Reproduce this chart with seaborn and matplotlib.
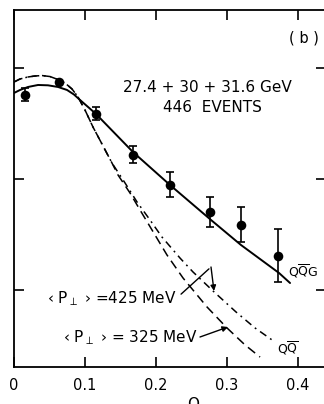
import numpy as np
import pandas as pd
import matplotlib
matplotlib.use("Agg")
import matplotlib.pyplot as plt
import seaborn as sns

# ---- data ----
obl_data = [0.015, 0.063, 0.115, 0.168, 0.220, 0.277, 0.320, 0.373]
dist_data = [2.76, 2.87, 2.59, 2.22, 1.95, 1.70, 1.59, 1.31]
dist_err = [0.06, 0.0, 0.06, 0.075, 0.11, 0.135, 0.16, 0.24]

qqg_x = [0.0, 0.0085, 0.0197, 0.0339, 0.0480, 0.0621, 0.0748, 0.0846, 0.0931,
         0.1044, 0.1156, 0.1678, 0.2200, 0.2778, 0.3202, 0.3738, 0.3893]
qqg_y = [2.775, 2.802, 2.829, 2.847, 2.844, 2.829, 2.802, 2.761, 2.712,
         2.649, 2.586, 2.243, 1.946, 1.631, 1.405, 1.153, 1.063]

shared_x = [0.0, 0.0085, 0.0197, 0.0296, 0.0395, 0.0508, 0.0621, 0.0719, 0.0818,
            0.0903, 0.1001, 0.1114, 0.1241, 0.1382]
shared_y = [2.874, 2.901, 2.919, 2.928, 2.932, 2.923, 2.896, 2.865, 2.811,
            2.739, 2.622, 2.468, 2.315, 2.144]

qq325_x = shared_x + [0.1467, 0.1636, 0.1777, 0.1946, 0.2158, 0.2384, 0.2722,
                      0.3004, 0.3258, 0.3470]
qq325_y = shared_y + [2.036, 1.874, 1.721, 1.541, 1.315, 1.108, 0.847,
                      0.658, 0.505, 0.396]

qq425_x = shared_x + [0.1566, 0.1735, 0.1918, 0.2087, 0.2341, 0.2525, 0.2807,
                      0.3131, 0.3399, 0.3639]
qq425_y = shared_y + [1.964, 1.793, 1.631, 1.477, 1.288, 1.162, 0.991,
                      0.802, 0.658, 0.550]

x_ticks = [0.0, 0.1, 0.2, 0.3, 0.4]
x_tick_labels = ["0", "0.1", "0.2", "0.3", "0.4"]
y_ticks = [1, 2, 3]

# ---- figure ----
sns.set_theme(style="ticks")
plt.rcParams['font.family'] = ['DejaVu Sans']
for k in ["text.color", "axes.labelcolor", "xtick.color", "ytick.color", "axes.edgecolor"]:
    plt.rcParams[k] = "black"
W, H = 324, 404
fig = plt.figure(figsize=(W / 100, H / 100), dpi=100)
ax_l, ax_r, ax_b, ax_t = 14, 326, 367, 10
ax = fig.add_axes([ax_l / W, (H - ax_b) / H, (ax_r - ax_l) / W, (ax_b - ax_t) / H])

X0, X1 = 0.0, 0.44
Y0, Y1 = (401 - 367) / 111, (401 - 10) / 111
ax.set_xlim(X0, X1)
ax.set_ylim(Y0, Y1)


def P(xp, yp):
    """pixel position of the picture -> data coords (for annotations only)"""
    return ((xp - ax_l) / (ax_r - ax_l) * (X1 - X0) + X0,
            (ax_b - yp) / (ax_b - ax_t) * (Y1 - Y0) + Y0)


df_qqg = pd.DataFrame({"x": qqg_x, "y": qqg_y})
df_325 = pd.DataFrame({"x": qq325_x, "y": qq325_y})
df_425 = pd.DataFrame({"x": qq425_x, "y": qq425_y})

sns.lineplot(data=df_qqg, x="x", y="y", ax=ax, color="black", lw=1.4,
             sort=False, estimator=None)
l1 = sns.lineplot(data=df_325, x="x", y="y", ax=ax, color="black", lw=1.1,
                  sort=False, estimator=None).lines[-1]
l1.set_dashes((6, 3.5))
l2 = sns.lineplot(data=df_425, x="x", y="y", ax=ax, color="black", lw=1.1,
                  sort=False, estimator=None).lines[-1]
l2.set_dashes((5, 3, 1.2, 3))

ax.errorbar(obl_data, dist_data, yerr=dist_err, fmt="none", ecolor="black",
            elinewidth=1.2, capsize=3.2, capthick=1.2)
sns.scatterplot(x=obl_data, y=dist_data, ax=ax, color="black", s=48,
                edgecolor="black", linewidth=0, zorder=5)

ax.set_xticks(x_ticks)
ax.set_xticklabels(x_tick_labels)
ax.set_yticks(y_ticks)
ax.set_yticklabels([])
ax.set_ylabel("")
ax.tick_params(axis="both", direction="in", length=7, width=1.2,
               top=True, right=True, labelsize=10.5, colors="black")
ax.tick_params(axis="x", pad=8)
for s in ax.spines.values():
    s.set_linewidth(1.3)
    s.set_color("black")

ax.set_xlabel("O", fontsize=11)
ax.xaxis.set_label_coords((193 - ax_l) / (ax_r - ax_l), (ax_b - 397) / (ax_b - ax_t))

# ---- texts ----
ax.text(*P(304, 38), "( b )", ha="center", va="center", fontsize=10.5)
ax.text(*P(207, 88), "27.4 + 30 + 31.6 GeV", ha="center", va="center", fontsize=11)
ax.text(*P(212, 107), "446  EVENTS", ha="center", va="center", fontsize=11)
ax.text(*P(288, 271), r"Q$\mathregular{\overline{Q}}$G", ha="left", va="center", fontsize=9)
ax.text(*P(277, 348), r"Q$\mathregular{\overline{Q}}$", ha="left", va="center", fontsize=9)

ax.text(*P(177, 299), "‹ P$_{\\perp}$ › =425 MeV", ha="right", va="center", fontsize=11)
ax.text(*P(198, 338), "‹ P$_{\\perp}$ › = 325 MeV", ha="right", va="center", fontsize=11)

# pointers
ax.annotate("", xy=P(211, 267), xytext=P(179, 296),
            arrowprops=dict(arrowstyle="-", color="black", lw=1.0))
ax.annotate("", xy=P(214, 291), xytext=P(211, 267),
            arrowprops=dict(arrowstyle="-|>", color="black", lw=1.0,
                            mutation_scale=8, shrinkA=0, shrinkB=0))
ax.annotate("", xy=P(228, 327), xytext=P(200, 337),
            arrowprops=dict(arrowstyle="-|>", color="black", lw=1.0,
                            mutation_scale=8, shrinkA=0, shrinkB=0))

fig.savefig("out.png", dpi=100)
